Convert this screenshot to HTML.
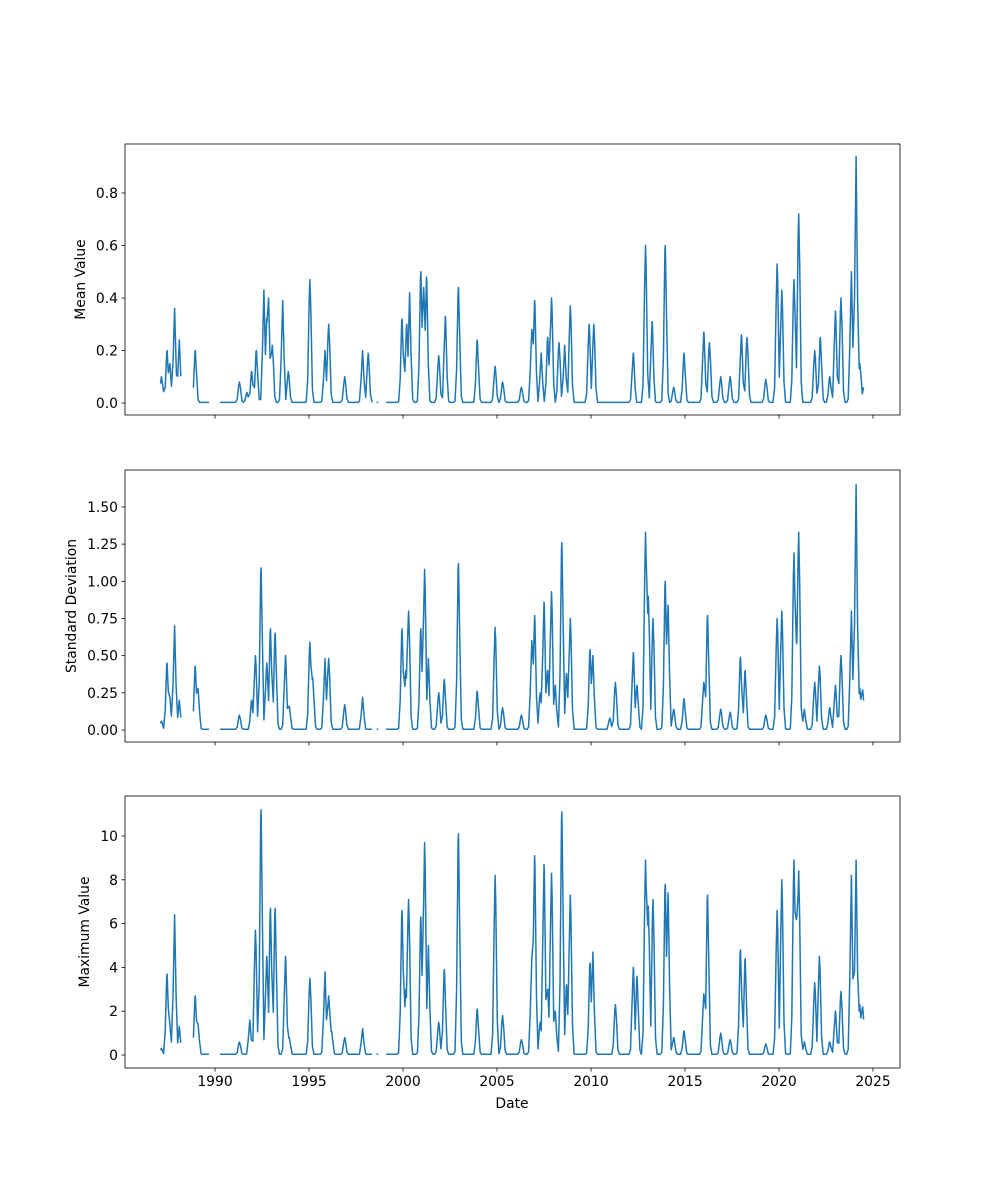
<!DOCTYPE html>
<html><head><meta charset="utf-8"><style>
html,body{margin:0;padding:0;background:#fff;}
svg{display:block;font-family:"DejaVu Sans","Liberation Sans",sans-serif;}
</style></head><body>
<svg id="s" width="1000" height="1200" viewBox="0 0 1000 1200" xmlns="http://www.w3.org/2000/svg"></svg>
<script>
const S=document.getElementById('s');
const X0=125,X1=900;
function xp(t){return 215+(t-1990)*18.8;}
let h='';
const panels=[
 {top:144,bot:415,y0:403,k:262.5,ticks:[0,0.2,0.4,0.6,0.8],fmt:v=>v.toFixed(1),label:'Mean Value',lx:85,
  peaks:[[1987.15,0.1],[1987.3,0.05],[1987.45,0.2],[1987.6,0.15],[1987.85,0.36],[1987.95,0.1],[1988.1,0.24],[1988.95,0.2],[1991.3,0.08],[1991.7,0.04],[1991.95,0.12],[1992.2,0.2],[1992.6,0.43],[1992.75,0.32],[1992.85,0.4],[1993.05,0.22],[1993.6,0.39],[1993.9,0.12],[1995.05,0.47],[1995.85,0.2],[1996.05,0.3],[1996.9,0.1],[1997.85,0.2],[1998.15,0.19],[1999.95,0.32],[2000.1,0.12],[2000.2,0.3],[2000.35,0.42],[2000.95,0.5],[2001.1,0.44],[2001.25,0.48],[2001.9,0.18],[2002.25,0.33],[2002.95,0.44],[2003.95,0.24],[2004.9,0.14],[2005.3,0.08],[2006.3,0.06],[2006.85,0.28],[2007.0,0.39],[2007.35,0.19],[2007.7,0.25],[2007.9,0.4],[2008.3,0.23],[2008.6,0.22],[2008.9,0.37],[2009.9,0.3],[2010.15,0.3],[2012.25,0.19],[2012.9,0.6],[2013.25,0.31],[2013.95,0.6],[2014.4,0.06],[2014.95,0.19],[2016.0,0.27],[2016.3,0.23],[2016.9,0.1],[2017.4,0.1],[2018.0,0.26],[2018.3,0.25],[2019.3,0.09],[2019.9,0.53],[2020.15,0.43],[2020.8,0.47],[2021.05,0.72],[2021.9,0.2],[2022.2,0.25],[2022.7,0.1],[2023.0,0.35],[2023.3,0.4],[2023.85,0.5],[2024.1,0.94],[2024.3,0.15],[2024.5,0.06]]},
 {top:470,bot:742,y0:730,k:148.7,ticks:[0,0.25,0.5,0.75,1,1.25,1.5],fmt:v=>v.toFixed(2),label:'Standard Deviation',lx:76,
  peaks:[[1987.15,0.06],[1987.45,0.45],[1987.6,0.22],[1987.85,0.7],[1988.1,0.2],[1988.95,0.43],[1989.1,0.28],[1991.3,0.1],[1991.95,0.2],[1992.15,0.5],[1992.45,1.09],[1992.75,0.45],[1992.95,0.68],[1993.2,0.65],[1993.75,0.5],[1993.95,0.16],[1995.05,0.59],[1995.2,0.35],[1995.85,0.48],[1996.05,0.48],[1996.9,0.17],[1997.85,0.22],[1999.95,0.68],[2000.15,0.4],[2000.3,0.8],[2000.95,0.68],[2001.15,1.08],[2001.35,0.48],[2001.9,0.25],[2002.2,0.34],[2002.95,1.12],[2003.95,0.26],[2004.9,0.69],[2005.3,0.15],[2006.3,0.1],[2006.85,0.6],[2007.0,0.77],[2007.3,0.25],[2007.5,0.86],[2007.7,0.4],[2007.9,0.93],[2008.1,0.3],[2008.45,1.26],[2008.7,0.38],[2008.9,0.75],[2009.95,0.54],[2010.1,0.5],[2011.0,0.08],[2011.3,0.32],[2012.25,0.52],[2012.45,0.3],[2012.9,1.33],[2013.05,0.9],[2013.3,0.75],[2013.95,1.0],[2014.1,0.84],[2014.4,0.14],[2014.95,0.21],[2016.0,0.32],[2016.2,0.77],[2016.9,0.14],[2017.4,0.12],[2017.95,0.49],[2018.2,0.4],[2019.3,0.1],[2019.9,0.75],[2020.15,0.8],[2020.8,1.19],[2020.95,0.6],[2021.05,1.33],[2021.35,0.14],[2021.9,0.32],[2022.15,0.43],[2022.7,0.15],[2023.0,0.3],[2023.3,0.5],[2023.85,0.8],[2024.1,1.65],[2024.3,0.28],[2024.45,0.27],[2024.5,0.03]]},
 {top:796,bot:1068,y0:1055,k:21.9,ticks:[0,2,4,6,8,10],fmt:v=>String(v),label:'Maximum Value',lx:89,
  peaks:[[1987.15,0.3],[1987.45,3.7],[1987.6,1.4],[1987.85,6.4],[1988.1,1.3],[1988.95,2.7],[1989.1,1.4],[1991.3,0.6],[1991.85,1.6],[1992.15,5.7],[1992.45,11.2],[1992.75,4.5],[1992.95,6.7],[1993.2,6.7],[1993.75,4.5],[1993.95,0.8],[1995.05,3.5],[1995.85,3.8],[1996.05,2.7],[1996.2,1.1],[1996.9,0.8],[1997.85,1.2],[1999.95,6.6],[2000.15,3.0],[2000.3,7.1],[2000.95,6.3],[2001.15,9.7],[2001.35,5.0],[2001.9,1.5],[2002.2,3.9],[2002.95,10.1],[2003.95,2.1],[2004.9,8.2],[2005.3,1.8],[2006.3,0.7],[2006.85,4.4],[2007.0,9.1],[2007.3,1.5],[2007.5,8.7],[2007.7,3.0],[2007.9,8.3],[2008.1,2.0],[2008.45,11.1],[2008.7,3.2],[2008.9,7.3],[2009.95,4.2],[2010.1,4.7],[2011.3,2.3],[2012.25,4.0],[2012.45,3.6],[2012.9,8.9],[2013.05,6.8],[2013.3,7.1],[2013.95,7.8],[2014.1,7.4],[2014.4,0.8],[2014.95,1.1],[2016.0,2.8],[2016.2,7.3],[2016.9,1.0],[2017.4,0.7],[2017.95,4.8],[2018.2,4.4],[2019.3,0.5],[2019.9,6.6],[2020.15,8.0],[2020.8,8.9],[2020.95,6.4],[2021.05,8.4],[2021.35,0.6],[2021.9,3.3],[2022.15,4.5],[2022.7,0.6],[2023.0,2.0],[2023.3,2.9],[2023.85,8.2],[2024.1,8.9],[2024.3,2.3],[2024.45,2.2],[2024.5,0.1]]}
];
const gaps=[[1988.25,1988.8],[1989.75,1990.2],[1998.4,1998.6],[1998.75,1999.1]];
function inGap(t){return gaps.some(g=>t>g[0]&&t<g[1]);}
const xt=[1990,1995,2000,2005,2010,2015,2020,2025];
const FS=13.9;
panels.forEach((p,i)=>{
 let ts=[];for(let t=1987.1;t<=2024.5;t+=1/12)ts.push(+t.toFixed(4));
 p.peaks.forEach(q=>ts.push(q[0]));ts.sort((a,b)=>a-b);
 let d='',pen=false;
 ts.forEach(t=>{
  if(inGap(t)){pen=false;return;}
  let v=0.003*(p.ticks[p.ticks.length-1]);
  p.peaks.forEach(q=>{const w=q[1]*Math.exp(-Math.pow((t-q[0])/0.09,2));if(w>v)v=w;});
  const y=p.y0-v*p.k;
  d+=(pen?'L':'M')+xp(t).toFixed(1)+','+y.toFixed(1);pen=true;
 });
 h+=`<path d="${d}" fill="none" stroke="#1f77b4" stroke-width="1.5" stroke-linejoin="round"/>`;
 h+=`<rect x="${X0}" y="${p.top}" width="${X1-X0}" height="${p.bot-p.top}" fill="none" stroke="#000" stroke-width="0.8"/>`;
 p.ticks.forEach(v=>{const y=p.y0-v*p.k;
  h+=`<line x1="${X0-3.5}" x2="${X0}" y1="${y}" y2="${y}" stroke="#000" stroke-width="0.8"/>`;
  h+=`<text x="${X0-7}" y="${y+5}" font-size="${FS}" text-anchor="end">${p.fmt(v)}</text>`;});
 xt.forEach(t=>{const x=xp(t);
  h+=`<line x1="${x}" x2="${x}" y1="${p.bot}" y2="${p.bot+3.5}" stroke="#000" stroke-width="0.8"/>`;
  if(i==2)h+=`<text x="${x}" y="${p.bot+18}" font-size="${FS}" text-anchor="middle">${t}</text>`;});
 const cy=(p.top+p.bot)/2;
 h+=`<text x="${p.lx}" y="${cy}" font-size="${FS}" text-anchor="middle" transform="rotate(-90 ${p.lx} ${cy})">${p.label}</text>`;
});
h+=`<text x="512" y="1108" font-size="${FS}" text-anchor="middle">Date</text>`;
S.innerHTML=h;
</script>
</body></html>
